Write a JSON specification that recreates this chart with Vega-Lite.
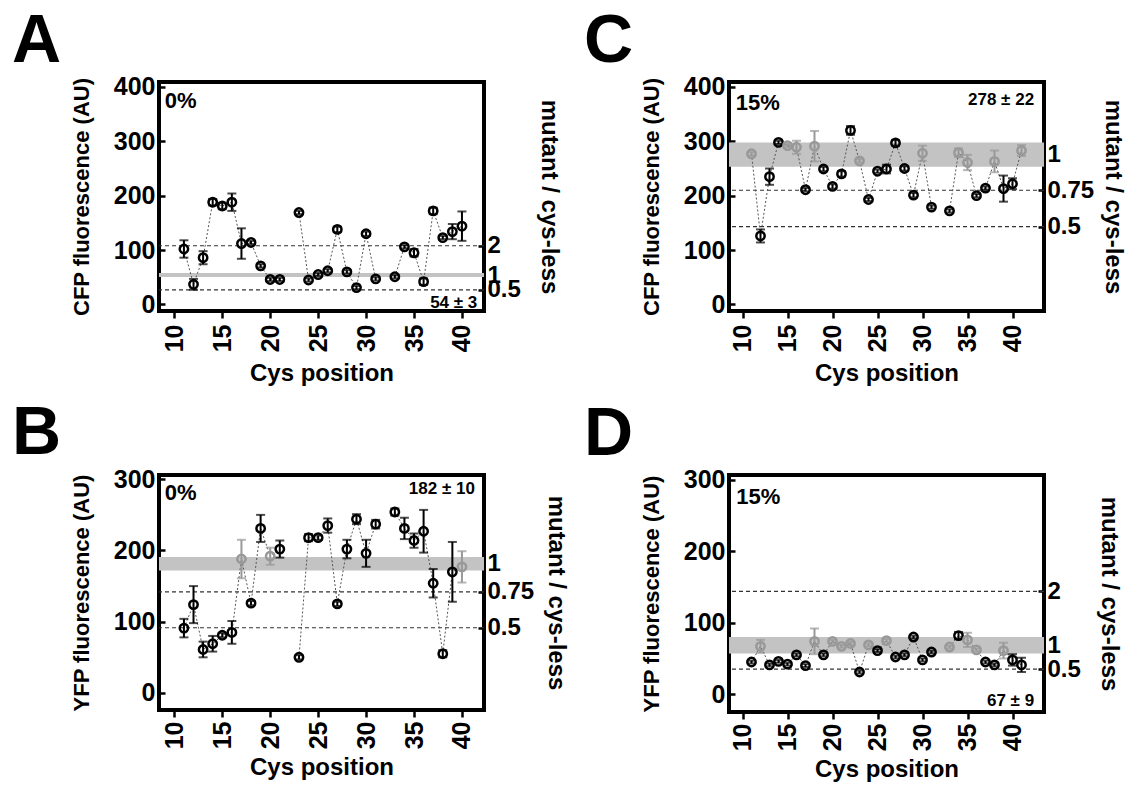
{
"$schema": "https://vega.github.io/schema/vega-lite/v6.json",
"background": "white",
"padding": {"left": 10, "top": 5, "right": 0, "bottom": 2},
"datasets": {
"pts": [
{"p":"A","pos":11,"v":102,"lo":86,"hi":118,"g":"out","s":1},
{"p":"A","pos":12,"v":37,"lo":27,"hi":47,"g":"out","s":1},
{"p":"A","pos":13,"v":86,"lo":74,"hi":98,"g":"out","s":1},
{"p":"A","pos":14,"v":188,"lo":182,"hi":194,"g":"out","s":1},
{"p":"A","pos":15,"v":181,"lo":175,"hi":187,"g":"out","s":1},
{"p":"A","pos":16,"v":188,"lo":172,"hi":204,"g":"out","s":1},
{"p":"A","pos":17,"v":112,"lo":84,"hi":140,"g":"out","s":1},
{"p":"A","pos":18,"v":114,"lo":111,"hi":117,"g":"out","s":1},
{"p":"A","pos":19,"v":71,"lo":68,"hi":74,"g":"out","s":1},
{"p":"A","pos":20,"v":46,"lo":43,"hi":49,"g":"out","s":1},
{"p":"A","pos":21,"v":46,"lo":43,"hi":49,"g":"out","s":1},
{"p":"A","pos":23,"v":169,"lo":166,"hi":172,"g":"out","s":2},
{"p":"A","pos":24,"v":45,"lo":42,"hi":48,"g":"out","s":2},
{"p":"A","pos":25,"v":55,"lo":52,"hi":58,"g":"out","s":2},
{"p":"A","pos":26,"v":62,"lo":59,"hi":65,"g":"out","s":2},
{"p":"A","pos":27,"v":138,"lo":133,"hi":143,"g":"out","s":2},
{"p":"A","pos":28,"v":60,"lo":57,"hi":63,"g":"out","s":2},
{"p":"A","pos":29,"v":31,"lo":28,"hi":34,"g":"out","s":2},
{"p":"A","pos":30,"v":130,"lo":126,"hi":134,"g":"out","s":2},
{"p":"A","pos":31,"v":47,"lo":44,"hi":50,"g":"out","s":2},
{"p":"A","pos":33,"v":51,"lo":48,"hi":54,"g":"out","s":3},
{"p":"A","pos":34,"v":106,"lo":103,"hi":109,"g":"out","s":3},
{"p":"A","pos":35,"v":95,"lo":88,"hi":102,"g":"out","s":3},
{"p":"A","pos":36,"v":42,"lo":36,"hi":48,"g":"out","s":3},
{"p":"A","pos":37,"v":172,"lo":166,"hi":178,"g":"out","s":3},
{"p":"A","pos":38,"v":123,"lo":120,"hi":126,"g":"out","s":3},
{"p":"A","pos":39,"v":134,"lo":120,"hi":148,"g":"out","s":3},
{"p":"A","pos":40,"v":144,"lo":117,"hi":171,"g":"out","s":3},
{"p":"B","pos":11,"v":91,"lo":78,"hi":104,"g":"out","s":1},
{"p":"B","pos":12,"v":124,"lo":98,"hi":150,"g":"out","s":1},
{"p":"B","pos":13,"v":61,"lo":50,"hi":72,"g":"out","s":1},
{"p":"B","pos":14,"v":69,"lo":58,"hi":80,"g":"out","s":1},
{"p":"B","pos":15,"v":81,"lo":78,"hi":84,"g":"out","s":1},
{"p":"B","pos":16,"v":85,"lo":69,"hi":101,"g":"out","s":1},
{"p":"B","pos":17,"v":188,"lo":161,"hi":215,"g":"in","s":1},
{"p":"B","pos":18,"v":126,"lo":123,"hi":129,"g":"out","s":1},
{"p":"B","pos":19,"v":231,"lo":212,"hi":250,"g":"out","s":1},
{"p":"B","pos":20,"v":192,"lo":180,"hi":204,"g":"in","s":1},
{"p":"B","pos":21,"v":202,"lo":190,"hi":214,"g":"out","s":1},
{"p":"B","pos":23,"v":50,"lo":47,"hi":53,"g":"out","s":2},
{"p":"B","pos":24,"v":218,"lo":213,"hi":223,"g":"out","s":2},
{"p":"B","pos":25,"v":218,"lo":215,"hi":221,"g":"out","s":2},
{"p":"B","pos":26,"v":235,"lo":225,"hi":245,"g":"out","s":2},
{"p":"B","pos":27,"v":125,"lo":122,"hi":128,"g":"out","s":2},
{"p":"B","pos":28,"v":202,"lo":189,"hi":215,"g":"out","s":2},
{"p":"B","pos":29,"v":244,"lo":237,"hi":251,"g":"out","s":2},
{"p":"B","pos":30,"v":196,"lo":177,"hi":215,"g":"out","s":2},
{"p":"B","pos":31,"v":237,"lo":231,"hi":243,"g":"out","s":2},
{"p":"B","pos":33,"v":254,"lo":249,"hi":259,"g":"out","s":3},
{"p":"B","pos":34,"v":231,"lo":216,"hi":246,"g":"out","s":3},
{"p":"B","pos":35,"v":214,"lo":204,"hi":224,"g":"out","s":3},
{"p":"B","pos":36,"v":227,"lo":197,"hi":257,"g":"out","s":3},
{"p":"B","pos":37,"v":154,"lo":134,"hi":174,"g":"out","s":3},
{"p":"B","pos":38,"v":55,"lo":50,"hi":60,"g":"out","s":3},
{"p":"B","pos":39,"v":170,"lo":128,"hi":212,"g":"out","s":3},
{"p":"B","pos":40,"v":177,"lo":155,"hi":199,"g":"in","s":3},
{"p":"C","pos":11,"v":277,"lo":274,"hi":280,"g":"in","s":1},
{"p":"C","pos":12,"v":126,"lo":114,"hi":138,"g":"out","s":1},
{"p":"C","pos":13,"v":235,"lo":220,"hi":250,"g":"out","s":1},
{"p":"C","pos":14,"v":298,"lo":295,"hi":301,"g":"out","s":1},
{"p":"C","pos":15,"v":292,"lo":289,"hi":295,"g":"in","s":1},
{"p":"C","pos":16,"v":289,"lo":277,"hi":301,"g":"in","s":1},
{"p":"C","pos":17,"v":211,"lo":208,"hi":214,"g":"out","s":1},
{"p":"C","pos":18,"v":291,"lo":263,"hi":319,"g":"in","s":1},
{"p":"C","pos":19,"v":249,"lo":245,"hi":253,"g":"out","s":1},
{"p":"C","pos":20,"v":217,"lo":213,"hi":221,"g":"out","s":1},
{"p":"C","pos":21,"v":240,"lo":235,"hi":245,"g":"out","s":1},
{"p":"C","pos":22,"v":320,"lo":312,"hi":328,"g":"out","s":1},
{"p":"C","pos":23,"v":264,"lo":261,"hi":267,"g":"in","s":1},
{"p":"C","pos":24,"v":193,"lo":190,"hi":196,"g":"out","s":1},
{"p":"C","pos":25,"v":245,"lo":242,"hi":248,"g":"out","s":1},
{"p":"C","pos":26,"v":249,"lo":241,"hi":257,"g":"out","s":1},
{"p":"C","pos":27,"v":297,"lo":292,"hi":302,"g":"out","s":1},
{"p":"C","pos":28,"v":250,"lo":246,"hi":254,"g":"out","s":1},
{"p":"C","pos":29,"v":201,"lo":197,"hi":205,"g":"out","s":1},
{"p":"C","pos":30,"v":278,"lo":264,"hi":292,"g":"in","s":1},
{"p":"C","pos":31,"v":179,"lo":176,"hi":182,"g":"out","s":1},
{"p":"C","pos":33,"v":172,"lo":169,"hi":175,"g":"out","s":2},
{"p":"C","pos":34,"v":279,"lo":271,"hi":287,"g":"in","s":2},
{"p":"C","pos":35,"v":261,"lo":247,"hi":275,"g":"in","s":2},
{"p":"C","pos":36,"v":200,"lo":197,"hi":203,"g":"out","s":2},
{"p":"C","pos":37,"v":214,"lo":211,"hi":217,"g":"out","s":2},
{"p":"C","pos":38,"v":263,"lo":243,"hi":283,"g":"in","s":2},
{"p":"C","pos":39,"v":213,"lo":189,"hi":237,"g":"out","s":2},
{"p":"C","pos":40,"v":222,"lo":212,"hi":232,"g":"out","s":2},
{"p":"C","pos":41,"v":283,"lo":273,"hi":293,"g":"in","s":2},
{"p":"D","pos":11,"v":45,"lo":43,"hi":47,"g":"out","s":1},
{"p":"D","pos":12,"v":67,"lo":58,"hi":76,"g":"in","s":1},
{"p":"D","pos":13,"v":41,"lo":39,"hi":43,"g":"out","s":1},
{"p":"D","pos":14,"v":46,"lo":44,"hi":48,"g":"out","s":1},
{"p":"D","pos":15,"v":42,"lo":40,"hi":44,"g":"out","s":1},
{"p":"D","pos":16,"v":55,"lo":53,"hi":57,"g":"out","s":1},
{"p":"D","pos":17,"v":40,"lo":38,"hi":42,"g":"out","s":1},
{"p":"D","pos":18,"v":74,"lo":56,"hi":92,"g":"in","s":1},
{"p":"D","pos":19,"v":55,"lo":53,"hi":57,"g":"out","s":1},
{"p":"D","pos":20,"v":74,"lo":72,"hi":76,"g":"in","s":1},
{"p":"D","pos":21,"v":67,"lo":65,"hi":69,"g":"in","s":1},
{"p":"D","pos":22,"v":71,"lo":69,"hi":73,"g":"in","s":1},
{"p":"D","pos":23,"v":31,"lo":29,"hi":33,"g":"out","s":1},
{"p":"D","pos":24,"v":69,"lo":67,"hi":71,"g":"in","s":1},
{"p":"D","pos":25,"v":61,"lo":59,"hi":63,"g":"out","s":1},
{"p":"D","pos":26,"v":75,"lo":73,"hi":77,"g":"in","s":1},
{"p":"D","pos":27,"v":52,"lo":50,"hi":54,"g":"out","s":1},
{"p":"D","pos":28,"v":55,"lo":53,"hi":57,"g":"out","s":1},
{"p":"D","pos":29,"v":80,"lo":78,"hi":82,"g":"out","s":1},
{"p":"D","pos":30,"v":48,"lo":46,"hi":50,"g":"out","s":1},
{"p":"D","pos":31,"v":59,"lo":57,"hi":61,"g":"out","s":1},
{"p":"D","pos":33,"v":66,"lo":64,"hi":68,"g":"in","s":2},
{"p":"D","pos":34,"v":82,"lo":77,"hi":87,"g":"out","s":2},
{"p":"D","pos":35,"v":76,"lo":66,"hi":86,"g":"in","s":2},
{"p":"D","pos":36,"v":62,"lo":60,"hi":64,"g":"in","s":2},
{"p":"D","pos":37,"v":45,"lo":43,"hi":47,"g":"out","s":2},
{"p":"D","pos":38,"v":41,"lo":39,"hi":43,"g":"out","s":2},
{"p":"D","pos":39,"v":61,"lo":50,"hi":72,"g":"in","s":2},
{"p":"D","pos":40,"v":48,"lo":40,"hi":56,"g":"out","s":2},
{"p":"D","pos":41,"v":41,"lo":31,"hi":51,"g":"out","s":2}
],
"bands": [
{"p":"A","lo":50.5,"hi":58},
{"p":"B","lo":172,"hi":191},
{"p":"C","lo":253,"hi":298},
{"p":"D","lo":57,"hi":80}
],
"dash": [
{"p":"A","y":108},{"p":"A","y":27},
{"p":"B","y":142},{"p":"B","y":91.5},
{"p":"C","y":210},{"p":"C","y":143},
{"p":"D","y":144},{"p":"D","y":35}
],
"one": [{}]
},
"columns": 2,
"align": "each",
"spacing": {"row": 10, "column": 12},
"concat": [
{
 "width": 325, "height": 229,
 "title": {"text": "A", "anchor": "start", "frame": "group", "dx": -147, "baseline": "alphabetic", "offset": -55},
 "layer": [
  {"data": {"name": "pts"}, "transform": [{"filter": "datum.p == 'A'"}],
   "layer": [
    {"data": {"name": "bands"}, "transform": [{"filter": "datum.p == 'A'"}], "mark": {"type": "rect", "color": "#c3c3c3"},
     "encoding": {"y": {"field": "lo", "type": "quantitative", "scale": {"domain": [-12, 409], "nice": false, "zero": false}, "axis": {"values": [0,100,200,300,400], "title": "CFP fluorescence (AU)", "tickSize": -6, "labelPadding": 10, "labelFontSize": 25, "titlePadding": 20}}, "y2": {"field": "hi"}}},
    {"data": {"name": "dash"}, "transform": [{"filter": "datum.p == 'A'"}], "mark": {"type": "rule", "color": "#333333", "strokeWidth": 1.2, "strokeDash": [4, 3]},
     "encoding": {"y": {"field": "y", "type": "quantitative", "scale": {"domain": [-12, 409], "nice": false, "zero": false}}}},
    {"mark": {"type": "line", "color": "#555555", "strokeWidth": 1, "strokeDash": [2, 2]},
     "encoding": {"x": {"field": "pos", "type": "quantitative", "scale": {"domain": [8.4, 42.3], "nice": false, "zero": false}, "axis": {"values": [10,15,20,25,30,35,40], "title": "Cys position", "labelAngle": -90, "tickSize": 7, "labelPadding": 6, "titlePadding": 10, "labelFontSize": 25, "titleFontSize": 24}},
      "y": {"field": "v", "type": "quantitative", "scale": {"domain": [-12, 409], "nice": false, "zero": false}}, "detail": {"field": "s"}}},
    {"mark": {"type": "rule", "strokeWidth": 2},
     "encoding": {"x": {"field": "pos", "type": "quantitative", "scale": {"domain": [8.4, 42.3], "nice": false, "zero": false}},
      "y": {"field": "lo", "type": "quantitative", "scale": {"domain": [-12, 409], "nice": false, "zero": false}}, "y2": {"field": "hi"},
      "color": {"field": "g", "type": "nominal", "scale": {"domain": ["out", "in"], "range": ["#000000", "#999999"]}, "legend": null}}},
    {"mark": {"type": "tick", "orient": "horizontal", "size": 9, "thickness": 2},
     "encoding": {"x": {"field": "pos", "type": "quantitative", "scale": {"domain": [8.4, 42.3], "nice": false, "zero": false}},
      "y": {"field": "lo", "type": "quantitative", "scale": {"domain": [-12, 409], "nice": false, "zero": false}},
      "color": {"field": "g", "type": "nominal", "scale": {"domain": ["out", "in"], "range": ["#000000", "#999999"]}, "legend": null}}},
    {"mark": {"type": "tick", "orient": "horizontal", "size": 9, "thickness": 2},
     "encoding": {"x": {"field": "pos", "type": "quantitative", "scale": {"domain": [8.4, 42.3], "nice": false, "zero": false}},
      "y": {"field": "hi", "type": "quantitative", "scale": {"domain": [-12, 409], "nice": false, "zero": false}},
      "color": {"field": "g", "type": "nominal", "scale": {"domain": ["out", "in"], "range": ["#000000", "#999999"]}, "legend": null}}},
    {"mark": {"type": "point", "shape": "circle", "filled": false, "size": 70, "strokeWidth": 2.5, "opacity": 1},
     "encoding": {"x": {"field": "pos", "type": "quantitative", "scale": {"domain": [8.4, 42.3], "nice": false, "zero": false}},
      "y": {"field": "v", "type": "quantitative", "scale": {"domain": [-12, 409], "nice": false, "zero": false}},
      "color": {"field": "g", "type": "nominal", "scale": {"domain": ["out", "in"], "range": ["#000000", "#999999"]}, "legend": null}}},
    {"data": {"name": "one"}, "mark": {"type": "text", "text": "0%", "align": "left", "baseline": "alphabetic", "fontSize": 22, "fontWeight": "bold", "color": "#000000"},
     "encoding": {"x": {"datum": 9.0, "type": "quantitative", "scale": {"domain": [8.4, 42.3], "nice": false, "zero": false}},
      "y": {"datum": 361, "type": "quantitative", "scale": {"domain": [-12, 409], "nice": false, "zero": false}}}},
    {"data": {"name": "one"}, "mark": {"type": "text", "text": "54 ± 3", "align": "right", "baseline": "alphabetic", "fontSize": 17, "fontWeight": "bold", "color": "#000000"},
     "encoding": {"x": {"datum": 41.6, "type": "quantitative", "scale": {"domain": [8.4, 42.3], "nice": false, "zero": false}},
      "y": {"datum": -6, "type": "quantitative", "scale": {"domain": [-12, 409], "nice": false, "zero": false}}}}
   ]},
  {"data": {"name": "dash"}, "transform": [{"filter": "datum.p == 'A'"}], "mark": {"type": "rule", "opacity": 0},
   "encoding": {"y": {"field": "y", "type": "quantitative", "scale": {"domain": [-12, 409], "nice": false, "zero": false},
    "axis": {"orient": "right", "values": [27, 54, 108], "labelExpr": "datum.value == 108 ? '2' : datum.value == 54 ? '1' : '0.5'", "title": "mutant / cys-less", "tickSize": -6, "labelPadding": 9, "titlePadding": 16, "titleFontSize": 24}}}}
 ],
 "resolve": {"scale": {"y": "independent"}}
},
{
 "width": 315, "height": 229,
 "title": {"text": "C", "anchor": "start", "frame": "group", "dx": -145, "baseline": "alphabetic", "offset": -55},
 "layer": [
  {"data": {"name": "pts"}, "transform": [{"filter": "datum.p == 'C'"}],
   "layer": [
    {"data": {"name": "bands"}, "transform": [{"filter": "datum.p == 'C'"}], "mark": {"type": "rect", "color": "#c3c3c3"},
     "encoding": {"y": {"field": "lo", "type": "quantitative", "scale": {"domain": [-12, 409], "nice": false, "zero": false}, "axis": {"values": [0,100,200,300,400], "title": "CFP fluorescence (AU)", "tickSize": -6, "labelPadding": 10, "labelFontSize": 25, "titlePadding": 20}}, "y2": {"field": "hi"}}},
    {"data": {"name": "dash"}, "transform": [{"filter": "datum.p == 'C'"}], "mark": {"type": "rule", "color": "#333333", "strokeWidth": 1.2, "strokeDash": [4, 3]},
     "encoding": {"y": {"field": "y", "type": "quantitative", "scale": {"domain": [-12, 409], "nice": false, "zero": false}}}},
    {"mark": {"type": "line", "color": "#555555", "strokeWidth": 1, "strokeDash": [2, 2]},
     "encoding": {"x": {"field": "pos", "type": "quantitative", "scale": {"domain": [8.5, 43.5], "nice": false, "zero": false}, "axis": {"values": [10,15,20,25,30,35,40], "title": "Cys position", "labelAngle": -90, "tickSize": 7, "labelPadding": 6, "titlePadding": 10, "labelFontSize": 25, "titleFontSize": 24}},
      "y": {"field": "v", "type": "quantitative", "scale": {"domain": [-12, 409], "nice": false, "zero": false}}, "detail": {"field": "s"}}},
    {"mark": {"type": "rule", "strokeWidth": 2},
     "encoding": {"x": {"field": "pos", "type": "quantitative", "scale": {"domain": [8.5, 43.5], "nice": false, "zero": false}},
      "y": {"field": "lo", "type": "quantitative", "scale": {"domain": [-12, 409], "nice": false, "zero": false}}, "y2": {"field": "hi"},
      "color": {"field": "g", "type": "nominal", "scale": {"domain": ["out", "in"], "range": ["#000000", "#999999"]}, "legend": null}}},
    {"mark": {"type": "tick", "orient": "horizontal", "size": 9, "thickness": 2},
     "encoding": {"x": {"field": "pos", "type": "quantitative", "scale": {"domain": [8.5, 43.5], "nice": false, "zero": false}},
      "y": {"field": "lo", "type": "quantitative", "scale": {"domain": [-12, 409], "nice": false, "zero": false}},
      "color": {"field": "g", "type": "nominal", "scale": {"domain": ["out", "in"], "range": ["#000000", "#999999"]}, "legend": null}}},
    {"mark": {"type": "tick", "orient": "horizontal", "size": 9, "thickness": 2},
     "encoding": {"x": {"field": "pos", "type": "quantitative", "scale": {"domain": [8.5, 43.5], "nice": false, "zero": false}},
      "y": {"field": "hi", "type": "quantitative", "scale": {"domain": [-12, 409], "nice": false, "zero": false}},
      "color": {"field": "g", "type": "nominal", "scale": {"domain": ["out", "in"], "range": ["#000000", "#999999"]}, "legend": null}}},
    {"mark": {"type": "point", "shape": "circle", "filled": false, "size": 70, "strokeWidth": 2.5, "opacity": 1},
     "encoding": {"x": {"field": "pos", "type": "quantitative", "scale": {"domain": [8.5, 43.5], "nice": false, "zero": false}},
      "y": {"field": "v", "type": "quantitative", "scale": {"domain": [-12, 409], "nice": false, "zero": false}},
      "color": {"field": "g", "type": "nominal", "scale": {"domain": ["out", "in"], "range": ["#000000", "#999999"]}, "legend": null}}},
    {"data": {"name": "one"}, "mark": {"type": "text", "text": "15%", "align": "left", "baseline": "alphabetic", "fontSize": 22, "fontWeight": "bold", "color": "#000000"},
     "encoding": {"x": {"datum": 9.26, "type": "quantitative", "scale": {"domain": [8.5, 43.5], "nice": false, "zero": false}},
      "y": {"datum": 357, "type": "quantitative", "scale": {"domain": [-12, 409], "nice": false, "zero": false}}}},
    {"data": {"name": "one"}, "mark": {"type": "text", "text": "278 ± 22", "align": "right", "baseline": "alphabetic", "fontSize": 17, "fontWeight": "bold", "color": "#000000"},
     "encoding": {"x": {"datum": 42.4, "type": "quantitative", "scale": {"domain": [8.5, 43.5], "nice": false, "zero": false}},
      "y": {"datum": 367, "type": "quantitative", "scale": {"domain": [-12, 409], "nice": false, "zero": false}}}}
   ]},
  {"data": {"name": "dash"}, "transform": [{"filter": "datum.p == 'C'"}], "mark": {"type": "rule", "opacity": 0},
   "encoding": {"y": {"field": "y", "type": "quantitative", "scale": {"domain": [-12, 409], "nice": false, "zero": false},
    "axis": {"orient": "right", "values": [143, 210, 276], "labelExpr": "datum.value == 276 ? '1' : datum.value == 210 ? '0.75' : '0.5'", "title": "mutant / cys-less", "tickSize": -6, "labelPadding": 9, "titlePadding": 7, "titleFontSize": 24}}}}
 ],
 "resolve": {"scale": {"y": "independent"}}
},
{
 "width": 325, "height": 235,
 "title": {"text": "B", "anchor": "start", "frame": "group", "dx": -147, "baseline": "alphabetic", "offset": -55},
 "layer": [
  {"data": {"name": "pts"}, "transform": [{"filter": "datum.p == 'B'"}],
   "layer": [
    {"data": {"name": "bands"}, "transform": [{"filter": "datum.p == 'B'"}], "mark": {"type": "rect", "color": "#c3c3c3"},
     "encoding": {"y": {"field": "lo", "type": "quantitative", "scale": {"domain": [-24, 306], "nice": false, "zero": false}, "axis": {"values": [0,100,200,300], "title": "YFP fluorescence (AU)", "tickSize": -6, "labelPadding": 10, "labelFontSize": 25, "titlePadding": 20}}, "y2": {"field": "hi"}}},
    {"data": {"name": "dash"}, "transform": [{"filter": "datum.p == 'B'"}], "mark": {"type": "rule", "color": "#333333", "strokeWidth": 1.2, "strokeDash": [4, 3]},
     "encoding": {"y": {"field": "y", "type": "quantitative", "scale": {"domain": [-24, 306], "nice": false, "zero": false}}}},
    {"mark": {"type": "line", "color": "#555555", "strokeWidth": 1, "strokeDash": [2, 2]},
     "encoding": {"x": {"field": "pos", "type": "quantitative", "scale": {"domain": [8.4, 42.3], "nice": false, "zero": false}, "axis": {"values": [10,15,20,25,30,35,40], "title": "Cys position", "labelAngle": -90, "tickSize": 7, "labelPadding": 4, "titlePadding": 7, "labelFontSize": 25, "titleFontSize": 24}},
      "y": {"field": "v", "type": "quantitative", "scale": {"domain": [-24, 306], "nice": false, "zero": false}}, "detail": {"field": "s"}}},
    {"mark": {"type": "rule", "strokeWidth": 2},
     "encoding": {"x": {"field": "pos", "type": "quantitative", "scale": {"domain": [8.4, 42.3], "nice": false, "zero": false}},
      "y": {"field": "lo", "type": "quantitative", "scale": {"domain": [-24, 306], "nice": false, "zero": false}}, "y2": {"field": "hi"},
      "color": {"field": "g", "type": "nominal", "scale": {"domain": ["out", "in"], "range": ["#000000", "#999999"]}, "legend": null}}},
    {"mark": {"type": "tick", "orient": "horizontal", "size": 9, "thickness": 2},
     "encoding": {"x": {"field": "pos", "type": "quantitative", "scale": {"domain": [8.4, 42.3], "nice": false, "zero": false}},
      "y": {"field": "lo", "type": "quantitative", "scale": {"domain": [-24, 306], "nice": false, "zero": false}},
      "color": {"field": "g", "type": "nominal", "scale": {"domain": ["out", "in"], "range": ["#000000", "#999999"]}, "legend": null}}},
    {"mark": {"type": "tick", "orient": "horizontal", "size": 9, "thickness": 2},
     "encoding": {"x": {"field": "pos", "type": "quantitative", "scale": {"domain": [8.4, 42.3], "nice": false, "zero": false}},
      "y": {"field": "hi", "type": "quantitative", "scale": {"domain": [-24, 306], "nice": false, "zero": false}},
      "color": {"field": "g", "type": "nominal", "scale": {"domain": ["out", "in"], "range": ["#000000", "#999999"]}, "legend": null}}},
    {"mark": {"type": "point", "shape": "circle", "filled": false, "size": 70, "strokeWidth": 2.5, "opacity": 1},
     "encoding": {"x": {"field": "pos", "type": "quantitative", "scale": {"domain": [8.4, 42.3], "nice": false, "zero": false}},
      "y": {"field": "v", "type": "quantitative", "scale": {"domain": [-24, 306], "nice": false, "zero": false}},
      "color": {"field": "g", "type": "nominal", "scale": {"domain": ["out", "in"], "range": ["#000000", "#999999"]}, "legend": null}}},
    {"data": {"name": "one"}, "mark": {"type": "text", "text": "0%", "align": "left", "baseline": "alphabetic", "fontSize": 22, "fontWeight": "bold", "color": "#000000"},
     "encoding": {"x": {"datum": 9.0, "type": "quantitative", "scale": {"domain": [8.4, 42.3], "nice": false, "zero": false}},
      "y": {"datum": 271, "type": "quantitative", "scale": {"domain": [-24, 306], "nice": false, "zero": false}}}},
    {"data": {"name": "one"}, "mark": {"type": "text", "text": "182 ± 10", "align": "right", "baseline": "alphabetic", "fontSize": 17, "fontWeight": "bold", "color": "#000000"},
     "encoding": {"x": {"datum": 41.35, "type": "quantitative", "scale": {"domain": [8.4, 42.3], "nice": false, "zero": false}},
      "y": {"datum": 280, "type": "quantitative", "scale": {"domain": [-24, 306], "nice": false, "zero": false}}}}
   ]},
  {"data": {"name": "dash"}, "transform": [{"filter": "datum.p == 'B'"}], "mark": {"type": "rule", "opacity": 0},
   "encoding": {"y": {"field": "y", "type": "quantitative", "scale": {"domain": [-24, 306], "nice": false, "zero": false},
    "axis": {"orient": "right", "values": [91.5, 142, 182], "labelExpr": "datum.value == 182 ? '1' : datum.value == 142 ? '0.75' : '0.5'", "title": "mutant / cys-less", "tickSize": -6, "labelPadding": 9, "titlePadding": 10, "titleFontSize": 24}}}}
 ],
 "resolve": {"scale": {"y": "independent"}}
},
{
 "width": 315, "height": 237,
 "title": {"text": "D", "anchor": "start", "frame": "group", "dx": -145, "baseline": "alphabetic", "offset": -55},
 "layer": [
  {"data": {"name": "pts"}, "transform": [{"filter": "datum.p == 'D'"}],
   "layer": [
    {"data": {"name": "bands"}, "transform": [{"filter": "datum.p == 'D'"}], "mark": {"type": "rect", "color": "#c3c3c3"},
     "encoding": {"y": {"field": "lo", "type": "quantitative", "scale": {"domain": [-25, 307], "nice": false, "zero": false}, "axis": {"values": [0,100,200,300], "title": "YFP fluorescence (AU)", "tickSize": -6, "labelPadding": 10, "labelFontSize": 25, "titlePadding": 20}}, "y2": {"field": "hi"}}},
    {"data": {"name": "dash"}, "transform": [{"filter": "datum.p == 'D'"}], "mark": {"type": "rule", "color": "#333333", "strokeWidth": 1.2, "strokeDash": [4, 3]},
     "encoding": {"y": {"field": "y", "type": "quantitative", "scale": {"domain": [-25, 307], "nice": false, "zero": false}}}},
    {"mark": {"type": "line", "color": "#555555", "strokeWidth": 1, "strokeDash": [2, 2]},
     "encoding": {"x": {"field": "pos", "type": "quantitative", "scale": {"domain": [8.5, 43.5], "nice": false, "zero": false}, "axis": {"values": [10,15,20,25,30,35,40], "title": "Cys position", "labelAngle": -90, "tickSize": 7, "labelPadding": 4, "titlePadding": 7, "labelFontSize": 25, "titleFontSize": 24}},
      "y": {"field": "v", "type": "quantitative", "scale": {"domain": [-25, 307], "nice": false, "zero": false}}, "detail": {"field": "s"}}},
    {"mark": {"type": "rule", "strokeWidth": 2},
     "encoding": {"x": {"field": "pos", "type": "quantitative", "scale": {"domain": [8.5, 43.5], "nice": false, "zero": false}},
      "y": {"field": "lo", "type": "quantitative", "scale": {"domain": [-25, 307], "nice": false, "zero": false}}, "y2": {"field": "hi"},
      "color": {"field": "g", "type": "nominal", "scale": {"domain": ["out", "in"], "range": ["#000000", "#999999"]}, "legend": null}}},
    {"mark": {"type": "tick", "orient": "horizontal", "size": 9, "thickness": 2},
     "encoding": {"x": {"field": "pos", "type": "quantitative", "scale": {"domain": [8.5, 43.5], "nice": false, "zero": false}},
      "y": {"field": "lo", "type": "quantitative", "scale": {"domain": [-25, 307], "nice": false, "zero": false}},
      "color": {"field": "g", "type": "nominal", "scale": {"domain": ["out", "in"], "range": ["#000000", "#999999"]}, "legend": null}}},
    {"mark": {"type": "tick", "orient": "horizontal", "size": 9, "thickness": 2},
     "encoding": {"x": {"field": "pos", "type": "quantitative", "scale": {"domain": [8.5, 43.5], "nice": false, "zero": false}},
      "y": {"field": "hi", "type": "quantitative", "scale": {"domain": [-25, 307], "nice": false, "zero": false}},
      "color": {"field": "g", "type": "nominal", "scale": {"domain": ["out", "in"], "range": ["#000000", "#999999"]}, "legend": null}}},
    {"mark": {"type": "point", "shape": "circle", "filled": false, "size": 70, "strokeWidth": 2.5, "opacity": 1},
     "encoding": {"x": {"field": "pos", "type": "quantitative", "scale": {"domain": [8.5, 43.5], "nice": false, "zero": false}},
      "y": {"field": "v", "type": "quantitative", "scale": {"domain": [-25, 307], "nice": false, "zero": false}},
      "color": {"field": "g", "type": "nominal", "scale": {"domain": ["out", "in"], "range": ["#000000", "#999999"]}, "legend": null}}},
    {"data": {"name": "one"}, "mark": {"type": "text", "text": "15%", "align": "left", "baseline": "alphabetic", "fontSize": 22, "fontWeight": "bold", "color": "#000000"},
     "encoding": {"x": {"datum": 9.3, "type": "quantitative", "scale": {"domain": [8.5, 43.5], "nice": false, "zero": false}},
      "y": {"datum": 266, "type": "quantitative", "scale": {"domain": [-25, 307], "nice": false, "zero": false}}}},
    {"data": {"name": "one"}, "mark": {"type": "text", "text": "67 ± 9", "align": "right", "baseline": "alphabetic", "fontSize": 17, "fontWeight": "bold", "color": "#000000"},
     "encoding": {"x": {"datum": 42.4, "type": "quantitative", "scale": {"domain": [8.5, 43.5], "nice": false, "zero": false}},
      "y": {"datum": -17, "type": "quantitative", "scale": {"domain": [-25, 307], "nice": false, "zero": false}}}}
   ]},
  {"data": {"name": "dash"}, "transform": [{"filter": "datum.p == 'D'"}], "mark": {"type": "rule", "opacity": 0},
   "encoding": {"y": {"field": "y", "type": "quantitative", "scale": {"domain": [-25, 307], "nice": false, "zero": false},
    "axis": {"orient": "right", "values": [35, 68, 144], "labelExpr": "datum.value == 144 ? '2' : datum.value == 68 ? '1' : '0.5'", "title": "mutant / cys-less", "tickSize": -6, "labelPadding": 9, "titlePadding": 16, "titleFontSize": 24}}}}
 ],
 "resolve": {"scale": {"y": "independent"}}
}
],
"config": {
 "view": {"stroke": "#000000", "strokeWidth": 4},
 "font": "Liberation Sans",
 "axis": {"labelFont": "Liberation Sans", "labelFontWeight": "bold", "labelFontSize": 24, "labelColor": "#000000", "titleFont": "Liberation Sans", "titleFontWeight": "bold", "titleFontSize": 22, "titleColor": "#000000", "tickColor": "#000000", "tickWidth": 2.5, "domain": false, "grid": false, "labelOverlap": false},
 "title": {"font": "Liberation Sans", "fontSize": 68, "fontWeight": "bold", "color": "#000000"},
 "text": {"font": "Liberation Sans"}
}
}
